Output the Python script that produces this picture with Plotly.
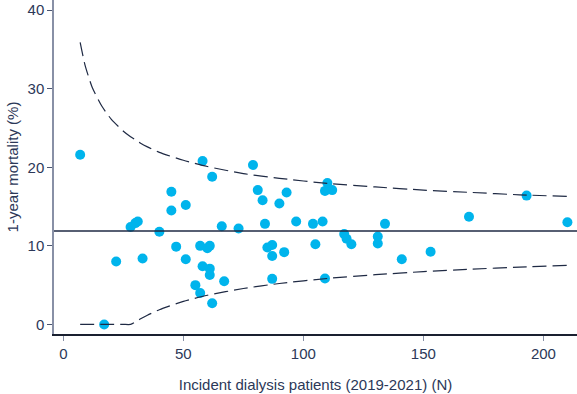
import plotly.graph_objects as go

# Unit data: incident dialysis patients (N) and 1-year mortality (%)
patients = [7, 17, 22, 28, 30, 31, 33, 40, 45, 45, 47, 51, 51, 55, 57, 57, 58, 58,
            60, 61, 61, 61, 62, 62, 66, 67, 73, 79, 81, 83, 84, 85, 87, 87, 87, 90,
            92, 93, 97, 104, 105, 108, 109, 109, 110, 112, 117, 118, 120, 131, 131,
            134, 141, 153, 169, 193, 210]
mortality = [21.6, 0.0, 8.0, 12.4, 12.9, 13.1, 8.4, 11.8, 14.5, 16.9, 9.9, 15.2, 8.3,
             5.0, 10.0, 4.0, 7.4, 20.8, 9.7, 10.0, 7.1, 6.3, 18.8, 2.7, 12.5, 5.5,
             12.2, 20.3, 17.1, 15.8, 12.8, 9.8, 10.1, 8.7, 5.8, 15.4, 9.2, 16.8, 13.1,
             12.8, 10.2, 13.1, 5.85, 17.0, 18.0, 17.1, 11.5, 10.9, 10.2, 11.2, 10.3,
             12.8, 8.3, 9.25, 13.7, 16.4, 13.0]

# Overall mortality (target line)
overall = 11.9

# Funnel control limits
limit_n = [7, 9, 12, 16, 20, 25, 28, 30, 32, 35, 40, 50, 60, 75, 90, 110, 130, 150, 170, 190, 210]
upper_limit = [35.9, 33.05, 30.2, 27.8, 26.1, 24.6, 23.9, 23.5, 23.1, 22.6, 21.9, 20.9,
               20.1, 19.2, 18.6, 17.95, 17.5, 17.1, 16.8, 16.5, 16.3]
lower_limit = [0, 0, 0, 0, 0, 0, 0, 0.31, 0.68, 1.17, 1.87, 2.93, 3.71, 4.57, 5.21,
               5.85, 6.33, 6.72, 7.03, 7.30, 7.52]

x_ticks = [0, 50, 100, 150, 200]
y_ticks = [0, 10, 20, 30, 40]

navy = "#1f2a44"
text_col = "#2c3858"

fig = go.Figure()
fig.add_trace(go.Scatter(x=patients, y=mortality, mode="markers",
                         marker=dict(color="#00B4EC", size=10, line=dict(width=0)),
                         showlegend=False))
for lim in (upper_limit, lower_limit):
    fig.add_trace(go.Scatter(x=limit_n, y=lim, mode="lines",
                             line=dict(color=navy, width=1.2, dash="14px,6px", shape="spline", smoothing=0.6),
                             showlegend=False))

fig.add_shape(type="line", xref="paper", x0=0, x1=1, yref="y", y0=overall, y1=overall,
              line=dict(color=navy, width=1.4), layer="above")

fig.update_layout(
    width=577, height=394,
    margin=dict(l=54, r=0, t=0, b=60),
    paper_bgcolor="white", plot_bgcolor="white",
    font=dict(family="Liberation Sans, Arial, sans-serif", color=text_col, size=15),
    xaxis=dict(range=[-3.9, 214], tickvals=x_ticks, showgrid=False, zeroline=False,
               showline=True, linecolor="#1a2030", linewidth=1.5,
               ticks="outside", ticklen=5, tickcolor="#8890a6", tickwidth=1.2,
               tickfont=dict(size=15, color=text_col),
               title=dict(text="Incident dialysis patients (2019-2021) (N)",
                          font=dict(size=15, color=text_col), standoff=19)),
    yaxis=dict(range=[-1.22, 41.3], tickvals=y_ticks, showgrid=False, zeroline=False,
               showline=True, linecolor="#8890a6", linewidth=1.5,
               ticks="outside", ticklen=5, tickcolor="#4a5570", tickwidth=1.2,
               tickfont=dict(size=15, color=text_col),
               title=dict(text="1-year mortality (%)", font=dict(size=15, color=text_col),
                          standoff=5)),
)

fig.write_html("out.html")
